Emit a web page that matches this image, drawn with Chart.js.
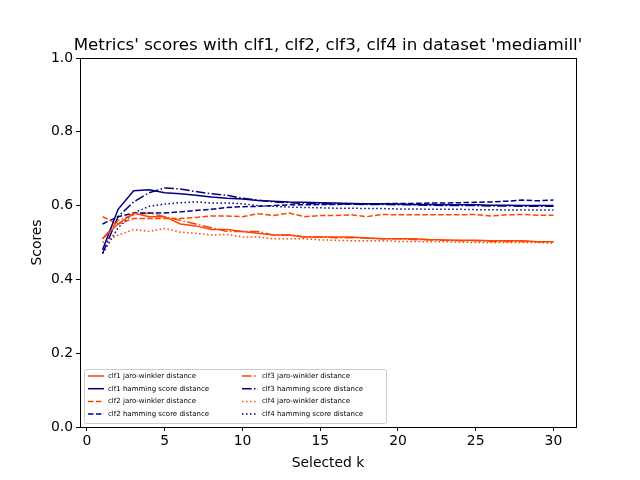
<!DOCTYPE html><html><head><script src="https://cdn.jsdelivr.net/npm/chart.js@4"></script>
<style>body{margin:0;background:#fff}#w{width:640px;height:480px}</style></head><body><div id="w"><canvas id="c"></canvas></div>
<script>
const ks=[1,2,3,4,5,6,7,8,9,10,11,12,13,14,15,16,17,18,19,20,21,22,23,24,25,26,27,28,29,30];
const clf1JW=[0.51,0.55,0.58,0.57,0.57,0.55,0.545,0.535,0.535,0.53,0.525,0.52,0.52,0.515,0.515,0.515,0.515,0.512,0.51,0.51,0.51,0.508,0.507,0.506,0.506,0.505,0.505,0.505,0.502,0.502];
const clf1HM=[0.48,0.59,0.64,0.643,0.635,0.632,0.628,0.623,0.62,0.618,0.614,0.612,0.61,0.609,0.608,0.607,0.606,0.605,0.605,0.604,0.603,0.603,0.602,0.602,0.602,0.601,0.601,0.600,0.600,0.600];
const clf2JW=[0.57,0.55,0.565,0.565,0.565,0.565,0.568,0.572,0.572,0.57,0.578,0.573,0.58,0.57,0.573,0.573,0.575,0.57,0.576,0.575,0.575,0.575,0.575,0.575,0.576,0.572,0.575,0.576,0.574,0.574];
const clf2HM=[0.55,0.57,0.58,0.58,0.58,0.583,0.587,0.59,0.595,0.597,0.598,0.6,0.602,0.602,0.603,0.603,0.604,0.604,0.605,0.606,0.606,0.607,0.607,0.608,0.609,0.61,0.612,0.615,0.613,0.615];
const clf3JW=[0.51,0.56,0.575,0.58,0.57,0.56,0.55,0.54,0.53,0.53,0.53,0.52,0.52,0.515,0.515,0.513,0.513,0.512,0.51,0.51,0.508,0.507,0.506,0.505,0.505,0.503,0.503,0.503,0.502,0.502];
const clf3HM=[0.47,0.57,0.61,0.635,0.648,0.645,0.638,0.632,0.628,0.62,0.615,0.61,0.608,0.606,0.605,0.604,0.604,0.603,0.603,0.602,0.602,0.601,0.6,0.6,0.6,0.599,0.599,0.598,0.598,0.598];
const clf4JW=[0.5,0.52,0.535,0.53,0.538,0.528,0.525,0.52,0.522,0.515,0.515,0.51,0.51,0.51,0.507,0.506,0.505,0.505,0.505,0.503,0.503,0.502,0.502,0.501,0.5,0.5,0.5,0.5,0.5,0.498];
const clf4HM=[0.47,0.54,0.58,0.598,0.604,0.608,0.61,0.607,0.607,0.605,0.6,0.598,0.596,0.595,0.594,0.593,0.593,0.592,0.592,0.591,0.591,0.59,0.59,0.59,0.589,0.589,0.588,0.588,0.588,0.588];
const OR='#ff4500',NV='#000080';
const DASH=[[],[5.5,2.4],[9.6,2.4,1.5,2.4],[1.5,2.5]];
const series=[
['clf1 jaro-winkler distance',clf1JW,OR,0],['clf1 hamming score distance',clf1HM,NV,0],
['clf2 jaro-winkler distance',clf2JW,OR,1],['clf2 hamming score distance',clf2HM,NV,1],
['clf3 jaro-winkler distance',clf3JW,OR,2],['clf3 hamming score distance',clf3HM,NV,2],
['clf4 jaro-winkler distance',clf4JW,OR,3],['clf4 hamming score distance',clf4HM,NV,3]];
const datasets=series.map(s=>({label:s[0],data:ks.map((k,i)=>({x:k,y:s[1][i]})),borderColor:s[2],borderDash:DASH[s[3]],borderWidth:1.5,pointRadius:0,fill:false,tension:0}));
const F='"DejaVu Sans", sans-serif';
const deco={id:'deco',afterDraw(ch){const c=ch.ctx,a=ch.chartArea;c.save();
c.strokeStyle='#000';c.lineWidth=1;c.strokeRect(a.left+0.5,a.top+0.5,a.right-a.left,a.bottom-a.top);
c.fillStyle='#000';c.font='16.7px '+F;c.textAlign='center';c.textBaseline='alphabetic';
c.fillText("Metrics' scores with clf1, clf2, clf3, clf4 in dataset 'mediamill'",(a.left+a.right)/2,a.top-8);
const bx=a.left+4,by=a.bottom-58,bw=302,bh=54;
c.fillStyle='rgba(255,255,255,0.8)';c.strokeStyle='#ccc';c.beginPath();c.roundRect(bx+0.5,by+0.5,bw,bh,2);c.fill();c.stroke();
c.font='7px '+F;c.textAlign='left';c.textBaseline='middle';
ch.data.datasets.forEach((d,i)=>{const col=i<4?0:1,row=i%4;
const x0=bx+4+col*154,y=by+7+row*12.7;
c.strokeStyle=d.borderColor;c.lineWidth=1.5;c.setLineDash(d.borderDash);c.beginPath();c.moveTo(x0,y);c.lineTo(x0+16,y);c.stroke();c.setLineDash([]);
c.fillStyle='#000';c.fillText(d.label,x0+20,y);});
c.restore();}};
const grid={drawOnChartArea:false,drawTicks:true,tickLength:4,color:'#000',tickColor:'#000'};
new Chart(document.getElementById('c'),{type:'line',data:{datasets},plugins:[deco],
options:{responsive:true,maintainAspectRatio:false,animation:false,
layout:{padding:{top:58,right:64,left:29,bottom:8}},
plugins:{legend:{display:false},title:{display:false},tooltip:{enabled:false}},
scales:{
x:{type:'linear',min:-0.45,max:31.45,grid,border:{color:'#000'},
ticks:{color:'#000',padding:2,font:{size:13.9,family:F}},
afterBuildTicks:s=>{s.ticks=[0,5,10,15,20,25,30].map(v=>({value:v}));},
title:{display:true,text:'Selected k',color:'#000',padding:{top:2,bottom:0},font:{size:13.9,family:F}},afterFit:s=>{s.height=45;}},
y:{min:0,max:1,grid,border:{color:'#000'},
ticks:{stepSize:0.2,color:'#000',padding:3,font:{size:13.9,family:F},callback:v=>v.toFixed(1)},
title:{display:true,text:'Scores',color:'#000',padding:0,font:{size:13.9,family:F}},afterFit:s=>{s.width=51;}}}}});
</script></body></html>
